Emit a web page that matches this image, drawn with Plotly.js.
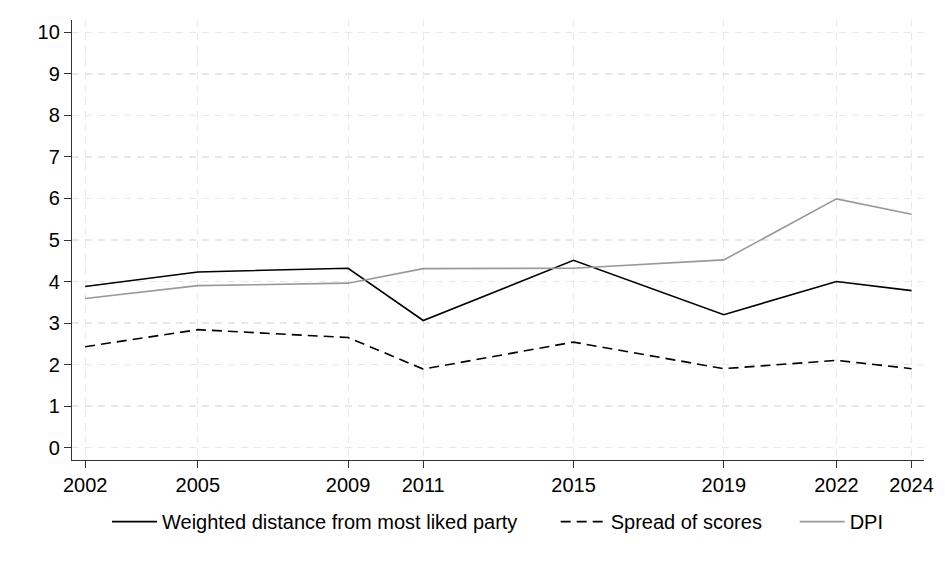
<!DOCTYPE html>
<html>
<head>
<meta charset="utf-8">
<script src="https://cdn.plot.ly/plotly-3.0.1.min.js"></script>
<style>html,body{margin:0;padding:0;background:#fff;}#chart{width:945px;height:567px;}</style>
</head>
<body>
<div id="chart"></div>
<script>
const years = [2002, 2005, 2009, 2011, 2015, 2019, 2022, 2024];
const weightedDistance = [3.88, 4.23, 4.32, 3.06, 4.51, 3.20, 4.00, 3.78];
const spreadOfScores = [2.43, 2.84, 2.65, 1.89, 2.54, 1.90, 2.10, 1.90];
const dpi = [3.59, 3.90, 3.96, 4.31, 4.32, 4.52, 5.99, 5.62];
const yTicks = [0,1,2,3,4,5,6,7,8,9,10];
const seriesNames = ['Weighted distance from most liked party', 'Spread of scores', 'DPI'];

const pad = n => '\u00a0'.repeat(n);

const traces = [
  {x: years, y: weightedDistance, mode: 'lines', name: seriesNames[0] + pad(6),
   line: {color: '#000000', width: 1.6}},
  {x: years, y: spreadOfScores, mode: 'lines', name: seriesNames[1] + pad(5),
   line: {color: '#000000', width: 1.6, dash: '10px,6px'}},
  {x: years, y: dpi, mode: 'lines', name: seriesNames[2],
   line: {color: '#999999', width: 1.6}}
];

const layout = {
  width: 945, height: 567,
  margin: {l: 72, r: 21, t: 20, b: 107},
  paper_bgcolor: '#ffffff', plot_bgcolor: '#ffffff',
  font: {family: 'Liberation Sans, Arial, sans-serif', size: 20, color: '#000'},
  showlegend: true,
  legend: {orientation: 'h', x: 0.5, xanchor: 'center', y: -0.14, yanchor: 'middle',
           font: {size: 20}, itemwidth: 45, traceorder: 'normal'},
  xaxis: {
    range: [2001.65, 2024.33], tickmode: 'array', tickvals: years, ticktext: years.map(String),
    showline: true, linecolor: '#333', linewidth: 1.2, ticks: 'outside', ticklen: 7, tickcolor: '#333',
    showgrid: true, gridcolor: '#e8e8e8', griddash: '7px,6px', gridwidth: 1.2, zeroline: false,
    tickfont: {size: 20}
  },
  yaxis: {
    range: [-0.3, 10.3], tickmode: 'array', tickvals: yTicks, ticktext: yTicks.map(String),
    showline: true, linecolor: '#333', linewidth: 1.2, ticks: 'outside', ticklen: 7, tickcolor: '#333',
    showgrid: true, gridcolor: '#e8e8e8', griddash: '7px,6px', gridwidth: 1.2, zeroline: false,
    tickfont: {size: 20}
  }
};

Plotly.newPlot('chart', traces, layout, {displayModeBar: false, staticPlot: true});
</script>
</body>
</html>
